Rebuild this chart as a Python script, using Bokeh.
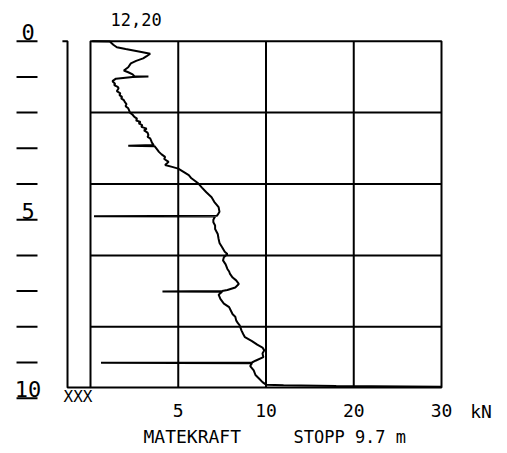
from bokeh.plotting import figure
from bokeh.models import ColumnDataSource, Range1d, CustomJSTransform
from bokeh.transform import transform
from bokeh.core.properties import value
from bokeh.embed import file_html
from bokeh.resources import INLINE

# ---- data (depth in m, feed force in kN) ----
depth = [0.00, 0.01, 0.10, 0.17, 0.22, 0.26, 0.30, 0.35, 0.42, 0.48, 0.55, 0.62,
         0.73, 0.82, 0.87, 0.93, 0.98, 0.99, 1.00, 1.05, 1.12, 1.19, 1.23, 1.28,
         1.32, 1.40, 1.46, 1.51, 1.56, 1.60, 1.65, 1.70, 1.76, 1.82, 1.88, 1.94,
         2.00, 2.06, 2.12, 2.17, 2.22, 2.26, 2.30, 2.35, 2.40, 2.45, 2.50, 2.56,
         2.63, 2.68, 2.72, 2.78, 2.84, 2.91, 2.93, 2.94, 3.00, 3.10, 3.17, 3.24,
         3.30, 3.38, 3.47, 3.52, 3.57, 3.66, 3.75, 3.84, 3.93, 3.99, 4.10, 4.23,
         4.37, 4.50, 4.65, 4.78, 4.86, 4.89, 4.90, 4.91, 5.00, 5.07, 5.16, 5.26,
         5.40, 5.54, 5.65, 5.77, 5.90, 5.96, 6.05, 6.14, 6.25, 6.38, 6.45, 6.52,
         6.62, 6.70, 6.80, 6.90, 6.97, 7.00, 7.01, 7.02, 7.10, 7.22, 7.35, 7.45,
         7.55, 7.65, 7.72, 7.82, 7.90, 7.96, 8.10, 8.20, 8.29, 8.40, 8.50, 8.58,
         8.66, 8.75, 8.85, 8.95, 9.00, 9.01, 9.02, 9.10, 9.22, 9.35, 9.45, 9.55,
         9.62, 9.64, 9.66, 9.68]
force = [0.1, 1.1, 1.3, 1.5, 2.0, 2.45, 2.9, 3.4, 3.2, 3.0, 2.6, 2.3,
         2.15, 1.9, 2.15, 2.4, 2.5, 3.3, 2.4, 1.45, 1.25, 1.4, 1.35, 1.55,
         1.6, 1.5, 1.7, 1.65, 1.8, 1.75, 1.9, 1.95, 2.05, 2.0, 2.15, 2.2,
         2.25, 2.4, 2.5, 2.65, 2.6, 2.85, 2.75, 2.95, 2.9, 3.2, 3.05, 3.25,
         3.3, 3.25, 3.4, 3.45, 3.5, 3.6, 2.15, 3.65, 3.75, 3.9, 4.05, 4.25,
         4.2, 4.45, 4.25, 4.65, 5.0, 5.3, 5.6, 5.75, 6.0, 6.15, 6.35, 6.6,
         6.9, 7.05, 7.3, 7.35, 7.25, 7.2, 0.2, 7.1, 7.0, 7.0, 7.1, 7.1,
         7.25, 7.3, 7.35, 7.5, 7.65, 7.8, 7.6, 7.55, 7.7, 7.8, 7.9, 7.95,
         8.1, 8.3, 8.45, 8.25, 7.8, 7.5, 4.1, 7.5, 7.3, 7.4, 7.6, 7.9,
         8.0, 8.1, 8.25, 8.3, 8.4, 8.5, 8.6, 8.7, 8.8, 9.2, 9.5, 9.8,
         9.9, 9.8, 9.85, 9.4, 9.2, 0.6, 9.2, 9.1, 9.3, 9.4, 9.6, 9.8,
         10.0, 12.0, 18.0, 30.0]

stop_depth = 9.7
force_max = 30
grid_force = [5, 10, 20]
grid_depth = [2, 4, 6, 8]
x_ticks = [5, 10, 20, 30]
x_tick_labels = ["5", "10", "20", "30"]
depth_ticks = [0, 1, 2, 3, 4, 5, 6, 7, 8, 9, 10]
depth_label_values = [0, 5, 10]
depth_labels = ["0", "5", "10"]
title_text = "12,20"
unit_text = "kN"
column_text = "XXX"
xlabel_text = "MATEKRAFT"
stop_text = "STOPP 9.7 m"

# piecewise force scale: 0-10 kN over two cells, then 10 kN per cell
piece = CustomJSTransform(v_func="""
const out = new Float64Array(xs.length);
for (let i = 0; i < xs.length; i++) {
  const x = xs[i];
  out[i] = x <= 10 ? x / 5 : 2 + (x - 10) / 10;
}
return out;
""")

FONT = value("DejaVu Sans Mono")

p = figure(width=505, height=452,
           x_range=Range1d(-1.02564, 4.72934),
           y_range=Range1d(11.521, -1.14006),
           x_axis_location=None, y_axis_location=None,
           toolbar_location=None, output_backend="svg",
           min_border=0, outline_line_color=None, title=None)
p.xgrid.visible = False
p.ygrid.visible = False
p.background_fill_color = "white"

# box
box = ColumnDataSource(dict(f0=[0], f1=[force_max], d0=[0], d1=[stop_depth]))
p.quad(left=transform("f0", piece), right=transform("f1", piece),
       top="d0", bottom="d1", source=box,
       fill_color=None, line_color="black", line_width=2)

# grid
vg = ColumnDataSource(dict(f=grid_force, d0=[0] * len(grid_force),
                           d1=[stop_depth] * len(grid_force)))
p.segment(x0=transform("f", piece), x1=transform("f", piece), y0="d0", y1="d1",
          source=vg, line_color="black", line_width=2)
hg = ColumnDataSource(dict(d=grid_depth, f0=[0] * len(grid_depth),
                           f1=[force_max] * len(grid_depth)))
p.segment(x0=transform("f0", piece), x1=transform("f1", piece), y0="d", y1="d",
          source=hg, line_color="black", line_width=2)

# curve
curve = ColumnDataSource(dict(force=force, depth=depth))
p.line(x=transform("force", piece), y="depth", source=curve,
       line_color="black", line_width=2)

# left column strip
p.line(x=[-0.32, -0.262, -0.262, 0], y=[0, 0, stop_depth, stop_depth],
       line_color="black", line_width=2)

# depth scale at far left (labels sit on their tick dash)
label_lift = 0.25
p.segment(x0=-0.843, x1=-0.604, y0=depth_ticks, y1=depth_ticks,
          line_color="black", line_width=2)
p.text(x=-0.712, y=[v - label_lift for v in depth_label_values], text=depth_labels,
       text_align="center", text_baseline="middle",
       text_font=FONT, text_font_size="22px", text_color="black")

# force tick labels
xt = ColumnDataSource(dict(v=x_ticks, t=x_tick_labels, d=[10.345] * len(x_ticks)))
p.text(x=transform("v", piece), y="d", text="t", source=xt,
       text_align="center", text_baseline="middle",
       text_font=FONT, text_font_size="18px", text_color="black")

p.text(x=[4.45], y=[10.37], text=[unit_text], text_align="center",
       text_baseline="middle", text_font=FONT, text_font_size="18px")
p.text(x=[-0.142], y=[9.966], text=[column_text], text_align="center",
       text_baseline="middle", text_font=FONT, text_font_size="16px")
p.text(x=[0.604], y=[11.073], text=[xlabel_text], text_align="left",
       text_baseline="middle", text_font=FONT, text_font_size="18px")
p.text(x=[2.313], y=[11.073], text=[stop_text], text_align="left",
       text_baseline="middle", text_font=FONT, text_font_size="17px")
p.text(x=[0.228], y=[-0.594], text=[title_text], text_align="left",
       text_baseline="middle", text_font=FONT, text_font_size="17px")

open("out.html", "w").write(file_html(p, INLINE))
